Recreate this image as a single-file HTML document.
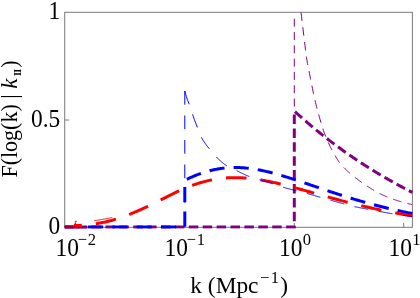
<!DOCTYPE html>
<html><head><meta charset="utf-8"><title>plot</title>
<style>html,body{margin:0;padding:0;background:#fff}svg{display:block;will-change:transform}</style>
</head><body>
<svg width="420" height="298" viewBox="0 0 420 298">
<rect width="420" height="298" fill="#fff"/>
<defs><clipPath id="c"><rect x="64.2" y="11.8" width="348.7" height="216.9"/></clipPath></defs>
<g fill="none" stroke="#7a7a7a" stroke-width="1">
<rect x="64.7" y="12.3" width="347.7" height="215.0"/>
<path d="M75.3,227.3 V223.0"/>
<path d="M184.8,227.3 V223.0"/>
<path d="M294.3,227.3 V223.0"/>
<path d="M403.7,227.3 V223.0"/>
<path d="M64.7,120.00 H69.0"/>
</g>
<g clip-path="url(#c)" fill="none" stroke-linejoin="miter" stroke-linecap="butt">
<path d="M64.70,227.00 L294.30,227.00 L294.30,111.04 L295.30,111.95 L296.30,112.85 L297.30,113.75 L298.30,114.65 L299.30,115.54 L300.30,116.43 L301.30,117.31 L302.30,118.19 L303.30,119.07 L304.30,119.94 L305.30,120.80 L306.30,121.66 L307.30,122.52 L308.30,123.37 L309.30,124.22 L310.30,125.07 L311.30,125.91 L312.30,126.74 L313.30,127.58 L314.30,128.40 L315.30,129.23 L316.30,130.05 L317.30,130.86 L318.30,131.68 L319.30,132.48 L320.30,133.29 L321.30,134.09 L322.30,134.88 L323.30,135.67 L324.30,136.46 L325.30,137.24 L326.30,138.02 L327.30,138.80 L328.30,139.57 L329.30,140.34 L330.30,141.10 L331.30,141.86 L332.30,142.62 L333.30,143.37 L334.30,144.12 L335.30,144.87 L336.30,145.61 L337.30,146.35 L338.30,147.08 L339.30,147.81 L340.30,148.54 L341.30,149.26 L342.30,149.98 L343.30,150.70 L344.30,151.41 L345.30,152.12 L346.30,152.82 L347.30,153.52 L348.30,154.22 L349.30,154.92 L350.30,155.61 L351.30,156.30 L352.30,156.98 L353.30,157.66 L354.30,158.34 L355.30,159.01 L356.30,159.68 L357.30,160.35 L358.30,161.01 L359.30,161.67 L360.30,162.33 L361.30,162.98 L362.30,163.63 L363.30,164.28 L364.30,164.93 L365.30,165.57 L366.30,166.20 L367.30,166.84 L368.30,167.47 L369.30,168.10 L370.30,168.72 L371.30,169.34 L372.30,169.96 L373.30,170.58 L374.30,171.19 L375.30,171.80 L376.30,172.41 L377.30,173.01 L378.30,173.61 L379.30,174.21 L380.30,174.80 L381.30,175.40 L382.30,175.99 L383.30,176.57 L384.30,177.15 L385.30,177.73 L386.30,178.31 L387.30,178.89 L388.30,179.46 L389.30,180.03 L390.30,180.59 L391.30,181.16 L392.30,181.72 L393.30,182.28 L394.30,182.83 L395.30,183.38 L396.30,183.93 L397.30,184.48 L398.30,185.03 L399.30,185.57 L400.30,186.11 L401.30,186.64 L402.30,187.18 L403.30,187.71 L404.30,188.24 L405.30,188.77 L406.30,189.29 L407.30,189.81 L408.30,190.33 L409.30,190.85 L410.30,191.36 L411.30,191.87 L412.30,192.38 L412.40,192.44" stroke="#800080" stroke-width="3" stroke-dasharray="9.5 4.4" stroke-dashoffset="1"/>
<path d="M64.70,227.00 L184.80,227.00 L184.80,180.26 L185.80,179.78 L186.80,179.30 L187.80,178.83 L188.80,178.36 L189.80,177.91 L190.80,177.46 L191.80,177.02 L192.80,176.59 L193.80,176.17 L194.80,175.76 L195.80,175.36 L196.80,174.96 L197.80,174.58 L198.80,174.20 L199.80,173.84 L200.80,173.48 L201.80,173.13 L202.80,172.80 L203.80,172.47 L204.80,172.15 L205.80,171.85 L206.80,171.55 L207.80,171.27 L208.80,170.99 L209.80,170.73 L210.80,170.47 L211.80,170.23 L212.80,170.00 L213.80,169.77 L214.80,169.56 L215.80,169.36 L216.80,169.17 L217.80,168.99 L218.80,168.82 L219.80,168.66 L220.80,168.51 L221.80,168.37 L222.80,168.25 L223.80,168.13 L224.80,168.02 L225.80,167.93 L226.80,167.84 L227.80,167.76 L228.80,167.70 L229.80,167.64 L230.80,167.59 L231.80,167.56 L232.80,167.53 L233.80,167.51 L234.80,167.51 L235.80,167.51 L236.80,167.52 L237.80,167.54 L238.80,167.57 L239.80,167.61 L240.80,167.65 L241.80,167.71 L242.80,167.78 L243.80,167.85 L244.80,167.93 L245.80,168.02 L246.80,168.12 L247.80,168.23 L248.80,168.34 L249.80,168.46 L250.80,168.59 L251.80,168.73 L252.80,168.88 L253.80,169.03 L254.80,169.19 L255.80,169.35 L256.80,169.52 L257.80,169.70 L258.80,169.89 L259.80,170.08 L260.80,170.28 L261.80,170.48 L262.80,170.69 L263.80,170.91 L264.80,171.13 L265.80,171.36 L266.80,171.59 L267.80,171.83 L268.80,172.07 L269.80,172.32 L270.80,172.57 L271.80,172.82 L272.80,173.09 L273.80,173.35 L274.80,173.62 L275.80,173.89 L276.80,174.17 L277.80,174.45 L278.80,174.74 L279.80,175.03 L280.80,175.32 L281.80,175.61 L282.80,175.91 L283.80,176.21 L284.80,176.51 L285.80,176.82 L286.80,177.13 L287.80,177.44 L288.80,177.76 L289.80,178.07 L290.80,178.39 L291.80,178.71 L292.80,179.03 L293.80,179.36 L294.80,179.68 L295.80,180.01 L296.80,180.34 L297.80,180.67 L298.80,181.00 L299.80,181.34 L300.80,181.67 L301.80,182.00 L302.80,182.34 L303.80,182.68 L304.80,183.01 L305.80,183.35 L306.80,183.69 L307.80,184.03 L308.80,184.37 L309.80,184.71 L310.80,185.05 L311.80,185.39 L312.80,185.73 L313.80,186.07 L314.80,186.41 L315.80,186.75 L316.80,187.09 L317.80,187.43 L318.80,187.77 L319.80,188.11 L320.80,188.45 L321.80,188.79 L322.80,189.12 L323.80,189.46 L324.80,189.80 L325.80,190.13 L326.80,190.47 L327.80,190.80 L328.80,191.14 L329.80,191.47 L330.80,191.80 L331.80,192.13 L332.80,192.46 L333.80,192.79 L334.80,193.11 L335.80,193.44 L336.80,193.77 L337.80,194.09 L338.80,194.41 L339.80,194.73 L340.80,195.05 L341.80,195.37 L342.80,195.69 L343.80,196.00 L344.80,196.32 L345.80,196.63 L346.80,196.94 L347.80,197.25 L348.80,197.56 L349.80,197.87 L350.80,198.17 L351.80,198.48 L352.80,198.78 L353.80,199.08 L354.80,199.38 L355.80,199.68 L356.80,199.97 L357.80,200.27 L358.80,200.56 L359.80,200.85 L360.80,201.14 L361.80,201.42 L362.80,201.71 L363.80,201.99 L364.80,202.27 L365.80,202.55 L366.80,202.83 L367.80,203.11 L368.80,203.38 L369.80,203.66 L370.80,203.93 L371.80,204.20 L372.80,204.47 L373.80,204.73 L374.80,205.00 L375.80,205.26 L376.80,205.52 L377.80,205.78 L378.80,206.03 L379.80,206.29 L380.80,206.54 L381.80,206.79 L382.80,207.04 L383.80,207.29 L384.80,207.54 L385.80,207.78 L386.80,208.02 L387.80,208.26 L388.80,208.50 L389.80,208.74 L390.80,208.97 L391.80,209.20 L392.80,209.44 L393.80,209.67 L394.80,209.89 L395.80,210.12 L396.80,210.34 L397.80,210.56 L398.80,210.79 L399.80,211.00 L400.80,211.22 L401.80,211.44 L402.80,211.65 L403.80,211.86 L404.80,212.07 L405.80,212.28 L406.80,212.48 L407.80,212.69 L408.80,212.89 L409.80,213.09 L410.80,213.29 L411.80,213.49 L412.40,213.61" stroke="#0000ff" stroke-width="3" stroke-dasharray="15.2 9.1" stroke-dashoffset="1"/>
<path d="M75.3,227.3 H87.4" stroke="#800080" stroke-width="2.6"/>
<path d="M64.70,227.00 L75.30,227.00 L75.30,225.50 L76.30,225.50 L77.30,225.50 L78.30,225.50 L79.30,225.48 L80.30,225.40 L81.30,225.33 L82.30,225.25 L83.30,225.17 L84.30,225.08 L85.30,224.99 L86.30,224.89 L87.30,224.79 L88.30,224.69 L89.30,224.58 L90.30,224.46 L91.30,224.34 L92.30,224.22 L93.30,224.08 L94.30,223.94 L95.30,223.80 L96.30,223.65 L97.30,223.49 L98.30,223.32 L99.30,223.14 L100.30,222.96 L101.30,222.77 L102.30,222.57 L103.30,222.37 L104.30,222.16 L105.30,221.94 L106.30,221.71 L107.30,221.47 L108.30,221.23 L109.30,220.98 L110.30,220.72 L111.30,220.45 L112.30,220.18 L113.30,219.90 L114.30,219.61 L115.30,219.31 L116.30,219.01 L117.30,218.70 L118.30,218.38 L119.30,218.05 L120.30,217.72 L121.30,217.38 L122.30,217.04 L123.30,216.68 L124.30,216.33 L125.30,215.96 L126.30,215.59 L127.30,215.21 L128.30,214.83 L129.30,214.44 L130.30,214.04 L131.30,213.64 L132.30,213.23 L133.30,212.82 L134.30,212.40 L135.30,211.98 L136.30,211.55 L137.30,211.12 L138.30,210.68 L139.30,210.24 L140.30,209.79 L141.30,209.34 L142.30,208.88 L143.30,208.42 L144.30,207.96 L145.30,207.49 L146.30,207.02 L147.30,206.54 L148.30,206.06 L149.30,205.58 L150.30,205.10 L151.30,204.61 L152.30,204.12 L153.30,203.62 L154.30,203.13 L155.30,202.63 L156.30,202.13 L157.30,201.63 L158.30,201.13 L159.30,200.62 L160.30,200.11 L161.30,199.61 L162.30,199.10 L163.30,198.59 L164.30,198.09 L165.30,197.58 L166.30,197.07 L167.30,196.57 L168.30,196.06 L169.30,195.56 L170.30,195.06 L171.30,194.56 L172.30,194.07 L173.30,193.58 L174.30,193.09 L175.30,192.61 L176.30,192.13 L177.30,191.66 L178.30,191.19 L179.30,190.73 L180.30,190.27 L181.30,189.82 L182.30,189.38 L183.30,188.94 L184.30,188.51 L185.30,188.09 L186.30,187.68 L187.30,187.27 L188.30,186.88 L189.30,186.49 L190.30,186.11 L191.30,185.73 L192.30,185.37 L193.30,185.01 L194.30,184.66 L195.30,184.32 L196.30,183.98 L197.30,183.66 L198.30,183.34 L199.30,183.03 L200.30,182.73 L201.30,182.44 L202.30,182.16 L203.30,181.88 L204.30,181.62 L205.30,181.36 L206.30,181.11 L207.30,180.87 L208.30,180.63 L209.30,180.41 L210.30,180.19 L211.30,179.99 L212.30,179.79 L213.30,179.60 L214.30,179.42 L215.30,179.25 L216.30,179.09 L217.30,178.93 L218.30,178.79 L219.30,178.65 L220.30,178.52 L221.30,178.40 L222.30,178.29 L223.30,178.19 L224.30,178.10 L225.30,178.01 L226.30,177.94 L227.30,177.87 L228.30,177.81 L229.30,177.76 L230.30,177.72 L231.30,177.68 L232.30,177.66 L233.30,177.64 L234.30,177.63 L235.30,177.63 L236.30,177.63 L237.30,177.65 L238.30,177.67 L239.30,177.69 L240.30,177.73 L241.30,177.77 L242.30,177.82 L243.30,177.88 L244.30,177.95 L245.30,178.02 L246.30,178.10 L247.30,178.18 L248.30,178.27 L249.30,178.37 L250.30,178.48 L251.30,178.59 L252.30,178.70 L253.30,178.83 L254.30,178.96 L255.30,179.09 L256.30,179.23 L257.30,179.38 L258.30,179.53 L259.30,179.68 L260.30,179.85 L261.30,180.01 L262.30,180.18 L263.30,180.36 L264.30,180.54 L265.30,180.73 L266.30,180.92 L267.30,181.11 L268.30,181.31 L269.30,181.52 L270.30,181.72 L271.30,181.93 L272.30,182.15 L273.30,182.37 L274.30,182.59 L275.30,182.81 L276.30,183.04 L277.30,183.27 L278.30,183.51 L279.30,183.75 L280.30,183.99 L281.30,184.23 L282.30,184.48 L283.30,184.73 L284.30,184.98 L285.30,185.23 L286.30,185.49 L287.30,185.74 L288.30,186.00 L289.30,186.26 L290.30,186.53 L291.30,186.79 L292.30,187.06 L293.30,187.33 L294.30,187.60 L295.30,187.87 L296.30,188.14 L297.30,188.42 L298.30,188.69 L299.30,188.97 L300.30,189.24 L301.30,189.52 L302.30,189.80 L303.30,190.08 L304.30,190.36 L305.30,190.64 L306.30,190.92 L307.30,191.20 L308.30,191.48 L309.30,191.76 L310.30,192.05 L311.30,192.33 L312.30,192.61 L313.30,192.89 L314.30,193.18 L315.30,193.46 L316.30,193.74 L317.30,194.02 L318.30,194.30 L319.30,194.59 L320.30,194.87 L321.30,195.15 L322.30,195.43 L323.30,195.71 L324.30,195.99 L325.30,196.27 L326.30,196.54 L327.30,196.82 L328.30,197.10 L329.30,197.38 L330.30,197.65 L331.30,197.93 L332.30,198.20 L333.30,198.47 L334.30,198.74 L335.30,199.02 L336.30,199.29 L337.30,199.55 L338.30,199.82 L339.30,200.09 L340.30,200.36 L341.30,200.62 L342.30,200.88 L343.30,201.15 L344.30,201.41 L345.30,201.67 L346.30,201.93 L347.30,202.19 L348.30,202.44 L349.30,202.70 L350.30,202.95 L351.30,203.20 L352.30,203.46 L353.30,203.71 L354.30,203.95 L355.30,204.20 L356.30,204.45 L357.30,204.69 L358.30,204.93 L359.30,205.18 L360.30,205.42 L361.30,205.66 L362.30,205.89 L363.30,206.13 L364.30,206.36 L365.30,206.60 L366.30,206.83 L367.30,207.06 L368.30,207.29 L369.30,207.52 L370.30,207.74 L371.30,207.97 L372.30,208.19 L373.30,208.41 L374.30,208.63 L375.30,208.85 L376.30,209.06 L377.30,209.28 L378.30,209.49 L379.30,209.71 L380.30,209.92 L381.30,210.13 L382.30,210.33 L383.30,210.54 L384.30,210.74 L385.30,210.95 L386.30,211.15 L387.30,211.35 L388.30,211.55 L389.30,211.75 L390.30,211.94 L391.30,212.14 L392.30,212.33 L393.30,212.52 L394.30,212.71 L395.30,212.90 L396.30,213.08 L397.30,213.27 L398.30,213.45 L399.30,213.63 L400.30,213.82 L401.30,213.99 L402.30,214.17 L403.30,214.35 L404.30,214.52 L405.30,214.70 L406.30,214.87 L407.30,215.04 L408.30,215.21 L409.30,215.37 L410.30,215.54 L411.30,215.71 L412.30,215.87 L412.40,215.88" stroke="#ff0000" stroke-width="3" stroke-dasharray="20.6 14.1" stroke-dashoffset="2"/>
<path d="M294.3,18.7 V111" stroke="#800080" stroke-width="1" stroke-dasharray="8 5.3"/>
<path d="M301.00,12.50 L301.50,16.60 L302.00,20.72 L302.50,24.84 L303.00,28.94 L303.50,33.00 L304.00,37.13 L304.50,41.36 L305.00,45.61 L305.50,49.76 L306.00,53.71 L306.50,57.36 L307.00,60.62 L307.50,63.50 L308.00,66.14 L308.50,68.63 L309.00,71.05 L309.50,73.50 L310.00,76.02 L310.50,78.57 L311.00,81.12 L311.50,83.66 L312.00,86.18 L312.50,88.68 L313.00,91.13 L313.50,93.53 L314.00,95.87 L314.50,98.13 L315.00,100.30 L315.50,102.40 L316.00,104.44 L316.50,106.44 L317.00,108.40 L317.50,110.31 L318.00,112.17 L318.50,114.01 L319.00,115.80 L319.50,117.56 L320.00,119.30 L320.50,121.00 L321.00,122.68 L321.50,124.34 L322.00,125.97 L322.50,127.56 L323.00,129.10 L323.50,130.60 L324.00,132.03 L324.50,133.40 L325.00,134.72 L325.50,136.00 L326.00,137.24 L326.50,138.45 L327.00,139.64 L327.50,140.79 L328.00,141.92 L328.50,143.02 L329.00,144.09 L329.50,145.15 L330.00,146.18 L330.50,147.20 L331.00,148.19 L331.50,149.14 L332.00,150.06 L332.50,150.96 L333.00,151.85 L333.50,152.72 L334.00,153.60 L334.50,154.48 L335.00,155.36 L335.50,156.24 L336.00,157.10 L336.50,157.95 L337.00,158.77 L337.50,159.55 L338.00,160.30 L338.50,161.02 L339.00,161.71 L339.50,162.39 L340.00,163.05 L340.50,163.70 L341.00,164.32 L341.50,164.93 L342.00,165.53 L342.50,166.11 L343.00,166.67 L343.50,167.22 L344.00,167.75 L344.50,168.26 L345.00,168.76 L345.50,169.24 L346.00,169.72 L346.50,170.18 L347.00,170.64 L347.50,171.09 L348.00,171.54 L348.50,171.97 L349.00,172.40 L349.50,172.83 L350.00,173.25 L350.50,173.66 L351.00,174.07 L351.50,174.48 L352.00,174.88 L352.50,175.29 L353.00,175.69 L353.50,176.09 L354.00,176.50 L354.50,176.91 L355.00,177.32 L355.50,177.72 L356.00,178.13 L356.50,178.53 L357.00,178.93 L357.50,179.32 L358.00,179.70 L358.50,180.08 L359.00,180.45 L359.50,180.82 L360.00,181.19 L360.50,181.55 L361.00,181.91 L361.50,182.26 L362.00,182.61 L362.50,182.96 L363.00,183.30 L363.50,183.63 L364.00,183.97 L364.50,184.30 L365.00,184.63 L365.50,184.96 L366.00,185.29 L366.50,185.62 L367.00,185.95 L367.50,186.28 L368.00,186.61 L368.50,186.93 L369.00,187.26 L369.50,187.58 L370.00,187.90 L370.50,188.22 L371.00,188.54 L371.50,188.85 L372.00,189.16 L372.50,189.47 L373.00,189.77 L373.50,190.08 L374.00,190.38 L374.50,190.67 L375.00,190.97 L375.50,191.25 L376.00,191.54 L376.50,191.82 L377.00,192.10 L377.50,192.37 L378.00,192.63 L378.50,192.90 L379.00,193.15 L379.50,193.41 L380.00,193.65 L380.50,193.90 L381.00,194.14 L381.50,194.37 L382.00,194.61 L382.50,194.84 L383.00,195.07 L383.50,195.29 L384.00,195.52 L384.50,195.74 L385.00,195.96 L385.50,196.18 L386.00,196.39 L386.50,196.61 L387.00,196.82 L387.50,197.02 L388.00,197.23 L388.50,197.43 L389.00,197.63 L389.50,197.83 L390.00,198.03 L390.50,198.22 L391.00,198.41 L391.50,198.60 L392.00,198.78 L392.50,198.97 L393.00,199.15 L393.50,199.32 L394.00,199.50 L394.50,199.67 L395.00,199.84 L395.50,200.01 L396.00,200.18 L396.50,200.34 L397.00,200.50 L397.50,200.66 L398.00,200.82 L398.50,200.97 L399.00,201.12 L399.50,201.28 L400.00,201.43 L400.50,201.58 L401.00,201.73 L401.50,201.87 L402.00,202.02 L402.50,202.16 L403.00,202.30 L403.50,202.44 L404.00,202.58 L404.50,202.71 L405.00,202.85 L405.50,202.98 L406.00,203.11 L406.50,203.24 L407.00,203.36 L407.50,203.49 L408.00,203.61 L408.50,203.73 L409.00,203.84 L409.50,203.96 L410.00,204.07 L410.50,204.18 L411.00,204.29 L411.50,204.40 L412.00,204.50" stroke="#800080" stroke-width="1" stroke-dasharray="8.6 6.2"/>
<path d="M184.8,91 V227.0" stroke="#0000ff" stroke-width="1" stroke-dasharray="13.7 10.8"/>
<path d="M184.80,91.00 L185.30,92.85 L185.80,94.62 L186.30,96.31 L186.80,97.90 L187.30,99.36 L187.80,100.70 L188.30,101.96 L188.80,103.19 L189.30,104.45 L189.80,105.80 L190.30,107.26 L190.80,108.80 L191.30,110.39 L191.80,111.99 L192.30,113.58 L192.80,115.12 L193.30,116.59 L193.80,118.00 L194.30,119.38 L194.80,120.74 L195.30,122.08 L195.80,123.39 L196.30,124.69 L196.80,125.97 L197.30,127.24 L197.80,128.51 L198.30,129.79 L198.80,131.08 L199.30,132.37 L199.80,133.63 L200.30,134.86 L200.80,136.02 L201.30,137.11 L201.80,138.11 L202.30,139.02 L202.80,139.87 L203.30,140.66 L203.80,141.42 L204.30,142.14 L204.80,142.85 L205.30,143.54 L205.80,144.22 L206.30,144.91 L206.80,145.58 L207.30,146.24 L207.80,146.88 L208.30,147.51 L208.80,148.13 L209.30,148.75 L209.80,149.36 L210.30,149.96 L210.80,150.57 L211.30,151.19 L211.80,151.80 L212.30,152.41 L212.80,153.01 L213.30,153.61 L213.80,154.20 L214.30,154.78 L214.80,155.36 L215.30,155.92 L215.80,156.46 L216.30,157.00 L216.80,157.51 L217.30,158.01 L217.80,158.49 L218.30,158.96 L218.80,159.42 L219.30,159.89 L219.80,160.34 L220.30,160.79 L220.80,161.23 L221.30,161.66 L221.80,162.09 L222.30,162.50 L222.80,162.91 L223.30,163.31 L223.80,163.70 L224.30,164.08 L224.80,164.45 L225.30,164.81 L225.80,165.16 L226.30,165.50 L226.80,165.83 L227.30,166.14 L227.80,166.44 L228.30,166.73 L228.80,167.01 L229.30,167.29 L229.80,167.55 L230.30,167.81 L230.80,168.06 L231.30,168.31 L231.80,168.55 L232.30,168.78 L232.80,169.01 L233.30,169.24 L233.80,169.47 L234.30,169.69 L234.80,169.92 L235.30,170.14 L235.80,170.36 L236.30,170.58 L236.80,170.81 L237.30,171.04 L237.80,171.27 L238.30,171.50 L238.80,171.74 L239.30,171.98 L239.80,172.22 L240.30,172.46 L240.80,172.70 L241.30,172.94 L241.80,173.19 L242.30,173.43 L242.80,173.67 L243.30,173.91 L243.80,174.15 L244.30,174.39 L244.80,174.62 L245.30,174.85 L245.80,175.07 L246.30,175.29 L246.80,175.51 L247.30,175.72 L247.80,175.93 L248.30,176.13 L248.80,176.32 L249.30,176.51 L249.80,176.69 L250.30,176.87 L250.80,177.05 L251.30,177.22 L251.80,177.39 L252.30,177.55 L252.80,177.71 L253.30,177.87 L253.80,178.03 L254.30,178.19 L254.80,178.34 L255.30,178.49 L255.80,178.64 L256.30,178.79 L256.80,178.94 L257.30,179.09 L257.80,179.24 L258.30,179.38 L258.80,179.53 L259.30,179.68 L259.80,179.83 L260.30,179.99 L260.80,180.14 L261.30,180.29 L261.80,180.45 L262.30,180.60 L262.80,180.75 L263.30,180.90 L263.80,181.05 L264.30,181.20 L264.80,181.35 L265.30,181.50 L265.80,181.64 L266.30,181.79 L266.80,181.94 L267.30,182.09 L267.80,182.24 L268.30,182.39 L268.80,182.54 L269.30,182.69 L269.80,182.84 L270.30,182.99 L270.80,183.14 L271.30,183.30 L271.80,183.45 L272.30,183.61 L272.80,183.77 L273.30,183.93 L273.80,184.09 L274.30,184.26 L274.80,184.43 L275.30,184.60 L275.80,184.77 L276.30,184.95 L276.80,185.12 L277.30,185.30 L277.80,185.47 L278.30,185.65 L278.80,185.83 L279.30,186.00 L279.80,186.17 L280.30,186.34 L280.80,186.51 L281.30,186.68 L281.80,186.84 L282.30,187.00 L282.80,187.16 L283.30,187.31 L283.80,187.46 L284.30,187.60 L284.80,187.75 L285.30,187.89 L285.80,188.02 L286.30,188.16 L286.80,188.29 L287.30,188.42 L287.80,188.55 L288.30,188.68 L288.80,188.81 L289.30,188.94 L289.80,189.06 L290.30,189.19 L290.80,189.31 L291.30,189.44 L291.80,189.56 L292.30,189.69 L292.80,189.81 L293.30,189.94 L293.80,190.06 L294.30,190.19 L294.80,190.32 L295.30,190.45 L295.80,190.58 L296.30,190.71 L296.80,190.84 L297.30,190.96 L297.80,191.09 L298.30,191.22 L298.80,191.35 L299.30,191.48 L299.80,191.60 L300.30,191.73 L300.80,191.86 L301.30,191.99 L301.80,192.11 L302.30,192.24 L302.80,192.37 L303.30,192.50 L303.80,192.63 L304.30,192.76 L304.80,192.89 L305.30,193.02 L305.80,193.15 L306.30,193.28 L306.80,193.41 L307.30,193.55 L307.80,193.68 L308.30,193.82 L308.80,193.95 L309.30,194.09 L309.80,194.23 L310.30,194.37 L310.80,194.52 L311.30,194.66 L311.80,194.81 L312.30,194.95 L312.80,195.10 L313.30,195.24 L313.80,195.39 L314.30,195.54 L314.80,195.68 L315.30,195.83 L315.80,195.98 L316.30,196.13 L316.80,196.27 L317.30,196.42 L317.80,196.57 L318.30,196.71 L318.80,196.86 L319.30,197.00 L319.80,197.14 L320.30,197.29 L320.80,197.43 L321.30,197.57 L321.80,197.72 L322.30,197.86 L322.80,198.00 L323.30,198.15 L323.80,198.29 L324.30,198.43 L324.80,198.58 L325.30,198.72 L325.80,198.86 L326.30,199.01 L326.80,199.15 L327.30,199.29 L327.80,199.43 L328.30,199.58 L328.80,199.72 L329.30,199.86 L329.80,200.00 L330.30,200.14 L330.80,200.28 L331.30,200.42 L331.80,200.56 L332.30,200.70 L332.80,200.84 L333.30,200.98 L333.80,201.12 L334.30,201.26 L334.80,201.40 L335.30,201.54 L335.80,201.67 L336.30,201.81 L336.80,201.95 L337.30,202.08 L337.80,202.22 L338.30,202.35 L338.80,202.49 L339.30,202.63 L339.80,202.77 L340.30,202.90 L340.80,203.04 L341.30,203.18 L341.80,203.32 L342.30,203.45 L342.80,203.59 L343.30,203.73 L343.80,203.86 L344.30,204.00 L344.80,204.14 L345.30,204.27 L345.80,204.41 L346.30,204.54 L346.80,204.67 L347.30,204.81 L347.80,204.94 L348.30,205.07 L348.80,205.20 L349.30,205.33 L349.80,205.46 L350.30,205.58 L350.80,205.71 L351.30,205.83 L351.80,205.95 L352.30,206.07 L352.80,206.19 L353.30,206.31 L353.80,206.43 L354.30,206.54 L354.80,206.66 L355.30,206.77 L355.80,206.88 L356.30,206.98 L356.80,207.09 L357.30,207.20 L357.80,207.30 L358.30,207.40 L358.80,207.51 L359.30,207.61 L359.80,207.71 L360.30,207.81 L360.80,207.90 L361.30,208.00 L361.80,208.10 L362.30,208.19 L362.80,208.29 L363.30,208.38 L363.80,208.48 L364.30,208.57 L364.80,208.66 L365.30,208.76 L365.80,208.85 L366.30,208.94 L366.80,209.03 L367.30,209.13 L367.80,209.22 L368.30,209.31 L368.80,209.40 L369.30,209.50 L369.80,209.59 L370.30,209.68 L370.80,209.77 L371.30,209.87 L371.80,209.96 L372.30,210.06 L372.80,210.15 L373.30,210.25 L373.80,210.34 L374.30,210.44 L374.80,210.53 L375.30,210.63 L375.80,210.73 L376.30,210.82 L376.80,210.92 L377.30,211.02 L377.80,211.11 L378.30,211.21 L378.80,211.30 L379.30,211.40 L379.80,211.49 L380.30,211.59 L380.80,211.69 L381.30,211.78 L381.80,211.87 L382.30,211.97 L382.80,212.06 L383.30,212.15 L383.80,212.25 L384.30,212.34 L384.80,212.43 L385.30,212.52 L385.80,212.61 L386.30,212.70 L386.80,212.79 L387.30,212.88 L387.80,212.96 L388.30,213.05 L388.80,213.13 L389.30,213.22 L389.80,213.30 L390.30,213.38 L390.80,213.47 L391.30,213.55 L391.80,213.63 L392.30,213.71 L392.80,213.79 L393.30,213.87 L393.80,213.95 L394.30,214.03 L394.80,214.10 L395.30,214.18 L395.80,214.26 L396.30,214.34 L396.80,214.41 L397.30,214.49 L397.80,214.57 L398.30,214.64 L398.80,214.72 L399.30,214.79 L399.80,214.87 L400.30,214.94 L400.80,215.02 L401.30,215.09 L401.80,215.16 L402.30,215.23 L402.80,215.31 L403.30,215.38 L403.80,215.45 L404.30,215.52 L404.80,215.59 L405.30,215.66 L405.80,215.73 L406.30,215.80 L406.80,215.86 L407.30,215.93 L407.80,216.00 L408.30,216.06 L408.80,216.13 L409.30,216.19 L409.80,216.26 L410.30,216.32 L410.80,216.39 L411.30,216.45 L411.80,216.51 L412.30,216.58" stroke="#0000ff" stroke-width="1" stroke-dasharray="14 10.67"/>
<path d="M64.70,227.00 L75.30,227.00 L75.30,221.30 L75.80,221.26 L76.30,221.22 L76.80,221.20 L77.30,221.20 L77.80,221.20 L78.30,221.21 L78.80,221.21 L79.30,221.22 L79.80,221.23 L80.30,221.24 L80.80,221.25 L81.30,221.26 L81.80,221.27 L82.30,221.27 L82.80,221.28 L83.30,221.29 L83.80,221.29 L84.30,221.30 L84.80,221.30 L85.30,221.30 L85.80,221.29 L86.30,221.28 L86.80,221.26 L87.30,221.24 L87.80,221.21 L88.30,221.18 L88.80,221.14 L89.30,221.11 L89.80,221.07 L90.30,221.02 L90.80,220.98 L91.30,220.93 L91.80,220.88 L92.30,220.83 L92.80,220.79 L93.30,220.74 L93.80,220.69 L94.30,220.64 L94.80,220.59 L95.30,220.53 L95.80,220.46 L96.30,220.40 L96.80,220.33 L97.30,220.25 L97.80,220.18 L98.30,220.10 L98.80,220.02 L99.30,219.94 L99.80,219.85 L100.30,219.77 L100.80,219.68 L101.30,219.59 L101.80,219.51 L102.30,219.42 L102.80,219.33 L103.30,219.25 L103.80,219.16 L104.30,219.07 L104.80,218.98 L105.30,218.88 L105.80,218.79 L106.30,218.69 L106.80,218.59 L107.30,218.49 L107.80,218.39 L108.30,218.29 L108.80,218.18 L109.30,218.08 L109.80,217.97 L110.30,217.87 L110.80,217.76 L111.30,217.65 L111.80,217.54 L112.30,217.43 L112.80,217.32 L113.30,217.21 L113.80,217.10 L114.30,216.99 L114.80,216.87 L115.30,216.75 L115.80,216.64 L116.30,216.52 L116.80,216.40 L117.30,216.27 L117.80,216.15 L118.30,216.03 L118.80,215.90 L119.30,215.78 L119.80,215.65" stroke="#ff0000" stroke-width="1" stroke-dasharray="18.5 17" stroke-dashoffset="0.5"/>
<path d="M64.7,227.1 H75.2" stroke="#a00030" stroke-width="2.4"/>
</g>
<g font-family="Liberation Serif, serif" font-size="24" fill="#000">
<text transform="translate(60.2,19.2) scale(0.975,1.04)" text-anchor="end">1</text>
<text transform="translate(60.2,126.7) scale(0.975,1.04)" text-anchor="end">0.5</text>
<text transform="translate(60.2,233.6) scale(0.975,1.04)" text-anchor="end">0</text>
<text transform="translate(55.5,255.6) scale(0.975,1.04)" text-anchor="start">10<tspan font-size="17" dy="-10" dx="-1.3">−</tspan><tspan font-size="17" dx="0.8">2</tspan></text>
<text transform="translate(164.5,255.6) scale(0.975,1.04)" text-anchor="start">10<tspan font-size="17" dy="-10" dx="-1.3">−</tspan><tspan font-size="17" dx="0.8">1</tspan></text>
<text transform="translate(279,255.6) scale(0.975,1.04)" text-anchor="start">10<tspan font-size="17" dy="-10" dx="0.3">0</tspan></text>
<text transform="translate(388.5,255.6) scale(0.975,1.04)" text-anchor="start">10<tspan font-size="17" dy="-10" dx="0.3">1</tspan></text>
<text transform="translate(190.3,292.5) scale(0.975,0.953)" text-anchor="start">k (Mpc<tspan font-size="17" dy="-9.5" dx="1.6">−</tspan><tspan font-size="17" dx="1.3">1</tspan><tspan dy="9.5" dx="1.4">)</tspan></text>
<text transform="translate(17,177.6) rotate(-90) scale(1,1.02)" font-size="22">F(log(k) | <tspan font-style="italic" font-size="23">k</tspan><tspan font-size="10" font-weight="bold" dx="2.6" dy="4.2" letter-spacing="-0.5">II</tspan><tspan dy="-4.2" dx="1.4">)</tspan></text>
</g>
</svg>
</body></html>
